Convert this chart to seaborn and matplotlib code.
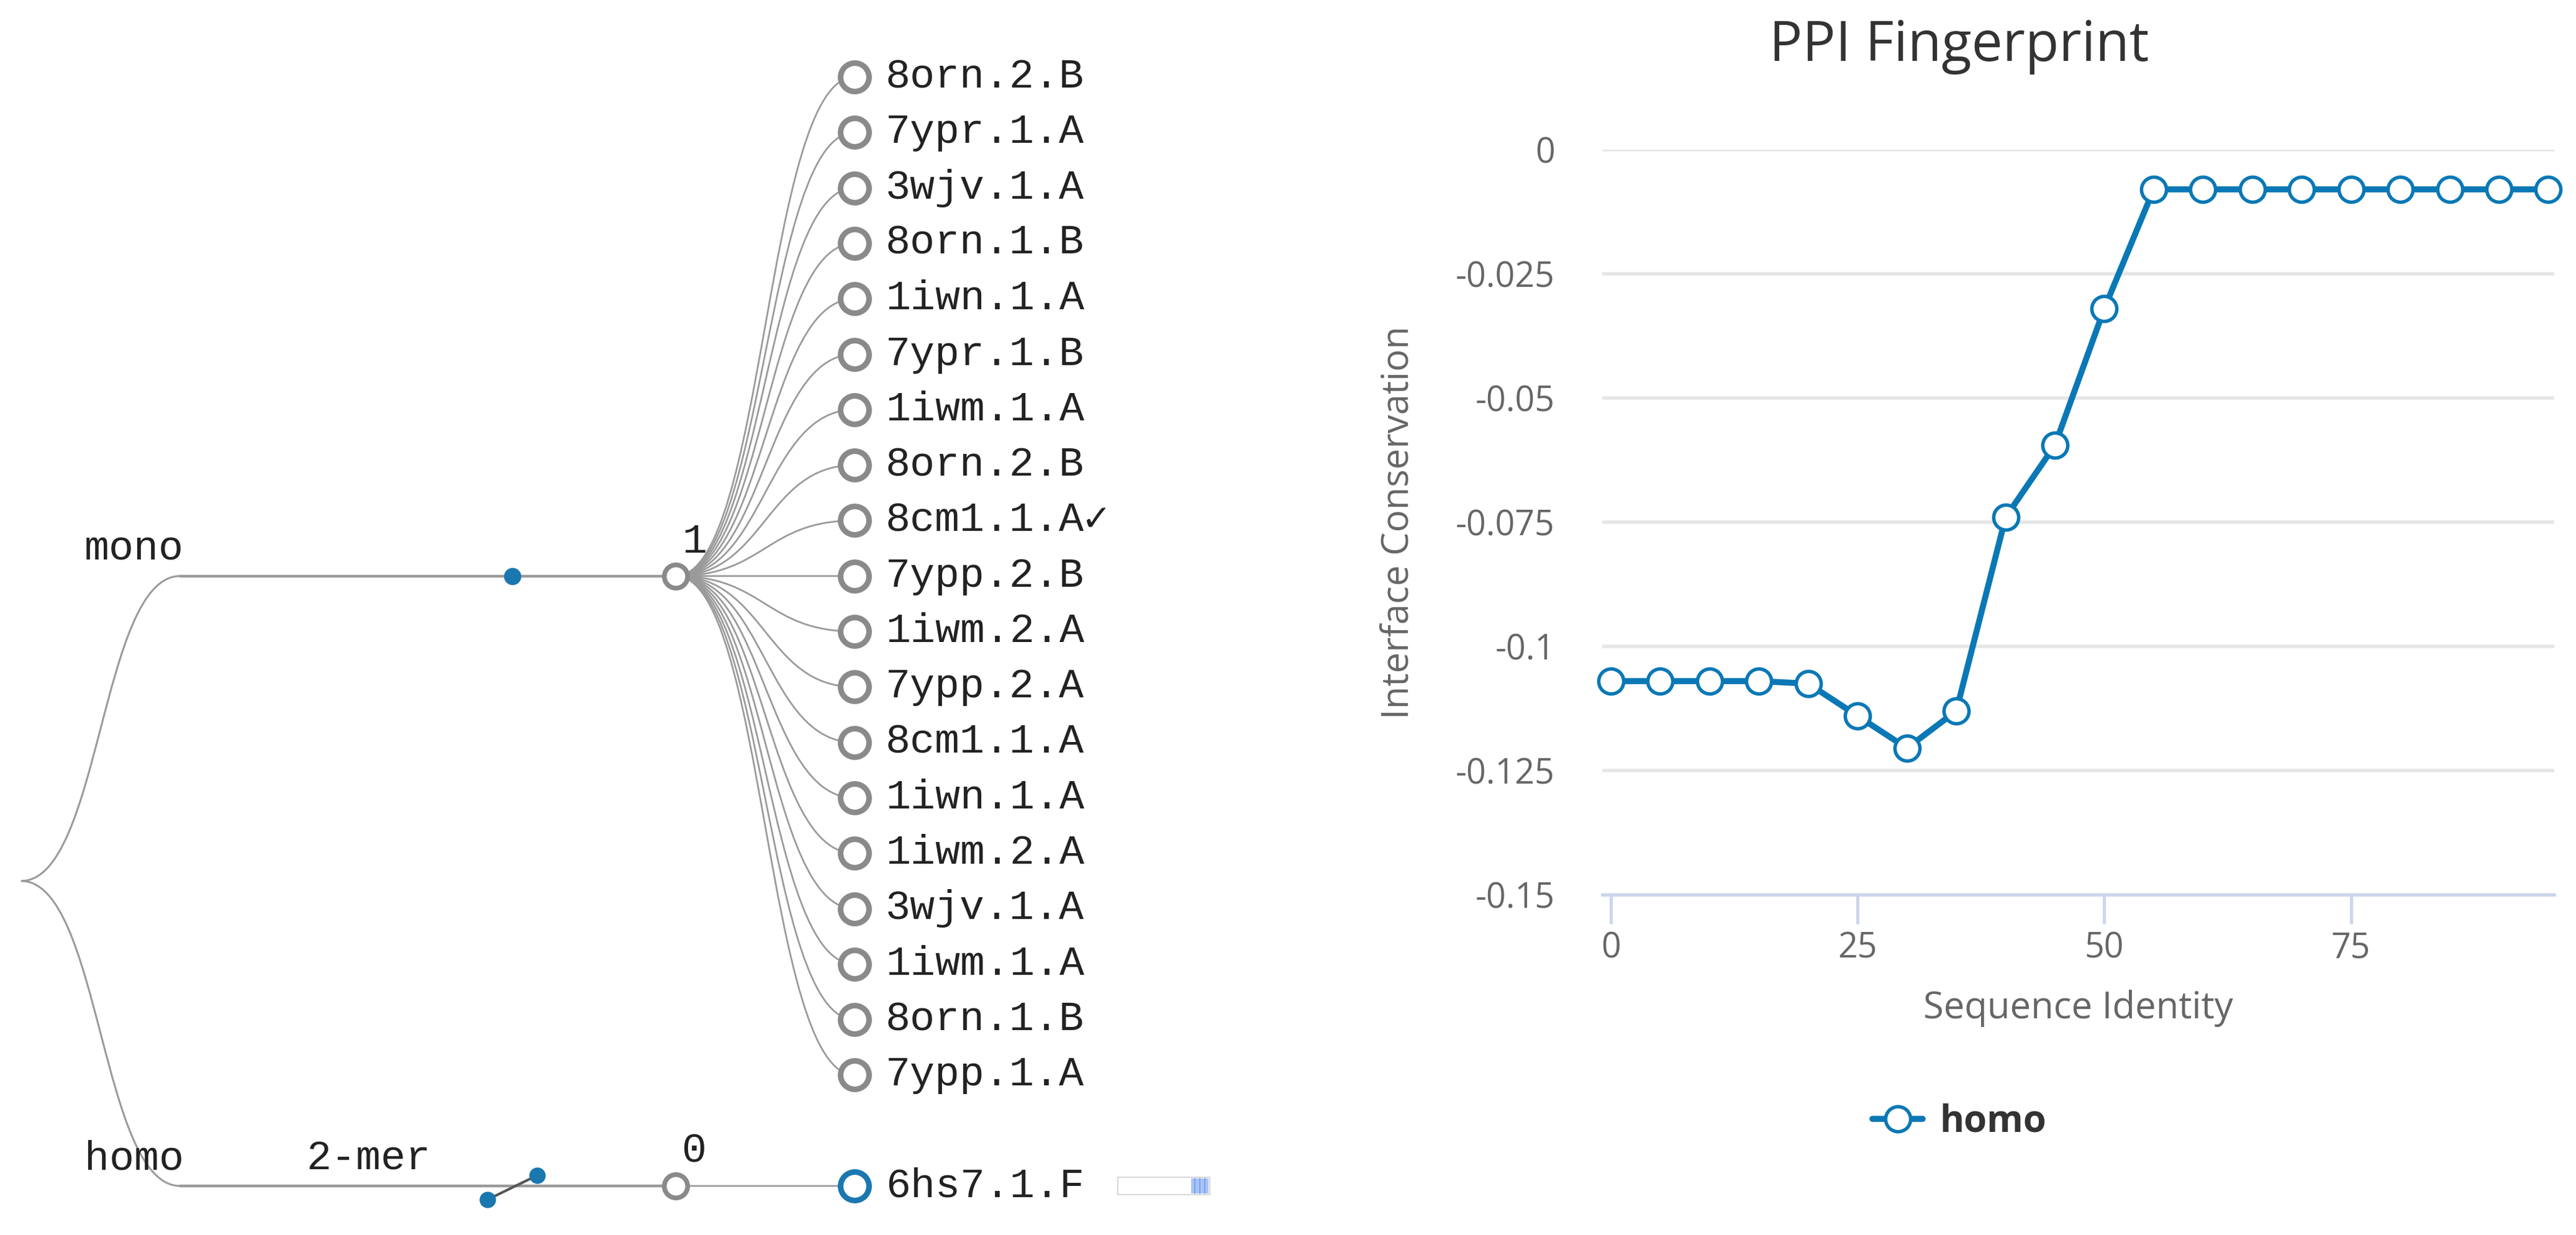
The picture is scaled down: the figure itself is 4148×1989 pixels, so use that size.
import numpy as np
import matplotlib
matplotlib.use('Agg')
import matplotlib.pyplot as plt
from matplotlib.path import Path
from matplotlib.patches import PathPatch, Rectangle
from matplotlib.lines import Line2D
import seaborn as sns

# ---- data ----
mono_leaves = ['8orn.2.B', '7ypr.1.A', '3wjv.1.A', '8orn.1.B', '1iwn.1.A', '7ypr.1.B',
               '1iwm.1.A', '8orn.2.B', '8cm1.1.A\u2713', '7ypp.2.B', '1iwm.2.A', '7ypp.2.A',
               '8cm1.1.A', '1iwn.1.A', '1iwm.2.A', '3wjv.1.A', '1iwm.1.A', '8orn.1.B', '7ypp.1.A']
homo_leaves = ['6hs7.1.F']
group_names = ['mono', 'homo']
oligomer_labels = ['', '2-mer']
cluster_labels = ['1', '0']

seq_identity = [0, 5, 10, 15, 20, 25, 30, 35, 40, 45, 50, 55, 60, 65, 70, 75, 80, 85, 90, 95]
conservation = [-0.107, -0.107, -0.107, -0.107, -0.1075, -0.114, -0.1205, -0.113, -0.074, -0.0595,
                -0.032, -0.008, -0.008, -0.008, -0.008, -0.008, -0.008, -0.008, -0.008, -0.008]
series_name = 'homo'
x_ticks = [0, 25, 50, 75]
y_ticks = [0, -0.025, -0.05, -0.075, -0.1, -0.125, -0.15]
y_tick_labels = ['0', '-0.025', '-0.05', '-0.075', '-0.1', '-0.125', '-0.15']

sns.set_theme(style='white')
plt.rcParams['font.family'] = ['Open Sans', 'DejaVu Sans']
MONO = ['Liberation Mono', 'DejaVu Sans Mono', 'DejaVu Sans']

W, H = 4148, 1989
fig = plt.figure(figsize=(W / 100, H / 100), dpi=100)

# ---- left: tree ----
axt = fig.add_axes([0, 0, 0.5, 1])
axt.set_xlim(0, W / 2)
axt.set_ylim(H, 0)
axt.axis('off')

col_root, col_group, col_olig, col_dot, col_cluster, col_leaf = 34, 290, 693, 825, 1088, 1376
row_top, row_step = 124, 89.3
LINK = '#9a9a9a'
NODE = '#8a8a8a'
BLUE_T = '#1a77b0'


def row_y(slot):
    return row_top + slot * row_step


def link(x0, y0, x1, y1, lw=2.2, color=LINK):
    xm = (x0 + x1) / 2
    p = Path([(x0, y0), (xm, y0), (xm, y1), (x1, y1)],
             [Path.MOVETO, Path.CURVE4, Path.CURVE4, Path.CURVE4])
    axt.add_patch(PathPatch(p, fill=False, lw=lw, edgecolor=color, zorder=1))


groups = [mono_leaves, homo_leaves]
slots = []
s = 0
for leaves in groups:
    slots.append(list(range(s, s + len(leaves))))
    s += len(leaves) + 1
group_slot = [np.mean(sl) for sl in slots]
root_y = row_y(np.mean(group_slot))

for g, leaves in enumerate(groups):
    gy = row_y(group_slot[g])
    link(col_root, root_y, col_group, gy)
    axt.plot([col_group, col_cluster], [gy, gy], color=LINK, lw=3.2, zorder=1)
    for i, name in enumerate(leaves):
        ly = row_y(slots[g][i])
        link(col_cluster, gy, col_leaf, ly, lw=2.0)
        homo_leaf = g == 1
        axt.plot(col_leaf, ly, 'o', ms=33, mfc='white',
                 mec=BLUE_T if homo_leaf else NODE, mew=6.5, zorder=4)
        axt.text(col_leaf + 50, ly, name, ha='left', va='center', fontsize=48,
                 family=MONO, color='#222222', zorder=5)
    # cluster node
    axt.plot(col_cluster, gy, 'o', ms=27, mfc='white', mec=NODE, mew=5.5, zorder=4)
    axt.text(col_cluster + 30, gy - 24, cluster_labels[g], ha='center', va='bottom',
             fontsize=48, family=MONO, color='#222222')
    axt.text(col_group + 6, gy - 12, group_names[g], ha='right', va='bottom',
             fontsize=48, family=MONO, color='#222222')
    if oligomer_labels[g]:
        axt.text(col_olig, gy - 12, oligomer_labels[g], ha='right', va='bottom',
                 fontsize=48, family=MONO, color='#222222')
        xs = [col_dot - 40, col_dot + 40]
        ys = [gy + 22, gy - 17]
        axt.plot(xs, ys, color='#555555', lw=3, zorder=2)
        axt.plot(xs, ys, 'o', ms=19, color=BLUE_T, mew=0, zorder=3)
        # small coverage bar after the leaf label
        bx = col_leaf + 424
        axt.add_patch(Rectangle((bx, gy - 14), 148, 28, facecolor='white',
                                edgecolor='#d8d8d8', lw=1.5, zorder=2))
        axt.add_patch(Rectangle((bx + 118, gy - 12), 28, 24, facecolor='#a9c4f7',
                                edgecolor='none', zorder=3))
        for k in range(3):
            axt.plot([bx + 124 + k * 8] * 2, [gy - 12, gy + 12], color='#7aa3f0', lw=1.5, zorder=3)
    else:
        axt.plot(col_dot, gy, 'o', ms=20, color=BLUE_T, mew=0, zorder=3)

# ---- right: PPI fingerprint ----
BLUE = '#0a78b5'
L, R, T, B = 2580, 4113, 241, 1441
ax = fig.add_axes([L / W, 1 - B / H, (R - L) / W, (B - T) / H])
sns.lineplot(x=seq_identity, y=conservation, ax=ax, color=BLUE, lw=7, marker='o', ms=29,
             mfc='white', mec=BLUE, mew=4, clip_on=False, zorder=5)
ax.set_xlim(-0.88, 95.6)
ax.set_ylim(-0.15, 0)
ax.set_yticks(y_ticks)
ax.set_yticklabels(y_tick_labels)
ax.set_xticks(x_ticks)
ax.yaxis.grid(True, color='#e6e6e6', lw=4)
ax.xaxis.grid(False)
for side in ['top', 'right', 'left']:
    ax.spines[side].set_visible(False)
ax.spines['bottom'].set_color('#ccd6eb')
ax.spines['bottom'].set_linewidth(3.6)
ax.tick_params(axis='y', length=0, pad=55, labelsize=40, labelcolor='#666666')
ax.tick_params(axis='x', length=34, width=3.6, color='#ccd6eb', pad=8,
               labelsize=40, labelcolor='#666666', bottom=True)

ax.set_xlabel('Sequence Identity', fontsize=43, color='#666666')
ax.xaxis.set_label_coords(((L + R) / 2 - L) / (R - L), (B - 1624) / (B - T))
ax.xaxis.label.set_va('center')
ax.set_ylabel('Interface Conservation', fontsize=43, color='#666666')
ax.yaxis.set_label_coords((2251 - L) / (R - L), 0.5)
ax.yaxis.label.set_va('center')

fig.text(3155 / W, 1 - 75 / H, 'PPI Fingerprint', ha='center', va='center',
         fontsize=64, color='#333333')

handle = Line2D([], [], color=BLUE, lw=7, marker='o', ms=29, mfc='white', mec=BLUE, mew=4)
leg = ax.legend([handle], [series_name], loc='center', bbox_to_anchor=(3155 / W, 1 - 1807 / H),
                bbox_transform=fig.transFigure, frameon=False, handlelength=1.35,
                handletextpad=0.45, prop={'size': 43, 'weight': 'bold'})
for t in leg.get_texts():
    t.set_color('#333333')

fig.savefig('out.png', dpi=100, facecolor='white')
